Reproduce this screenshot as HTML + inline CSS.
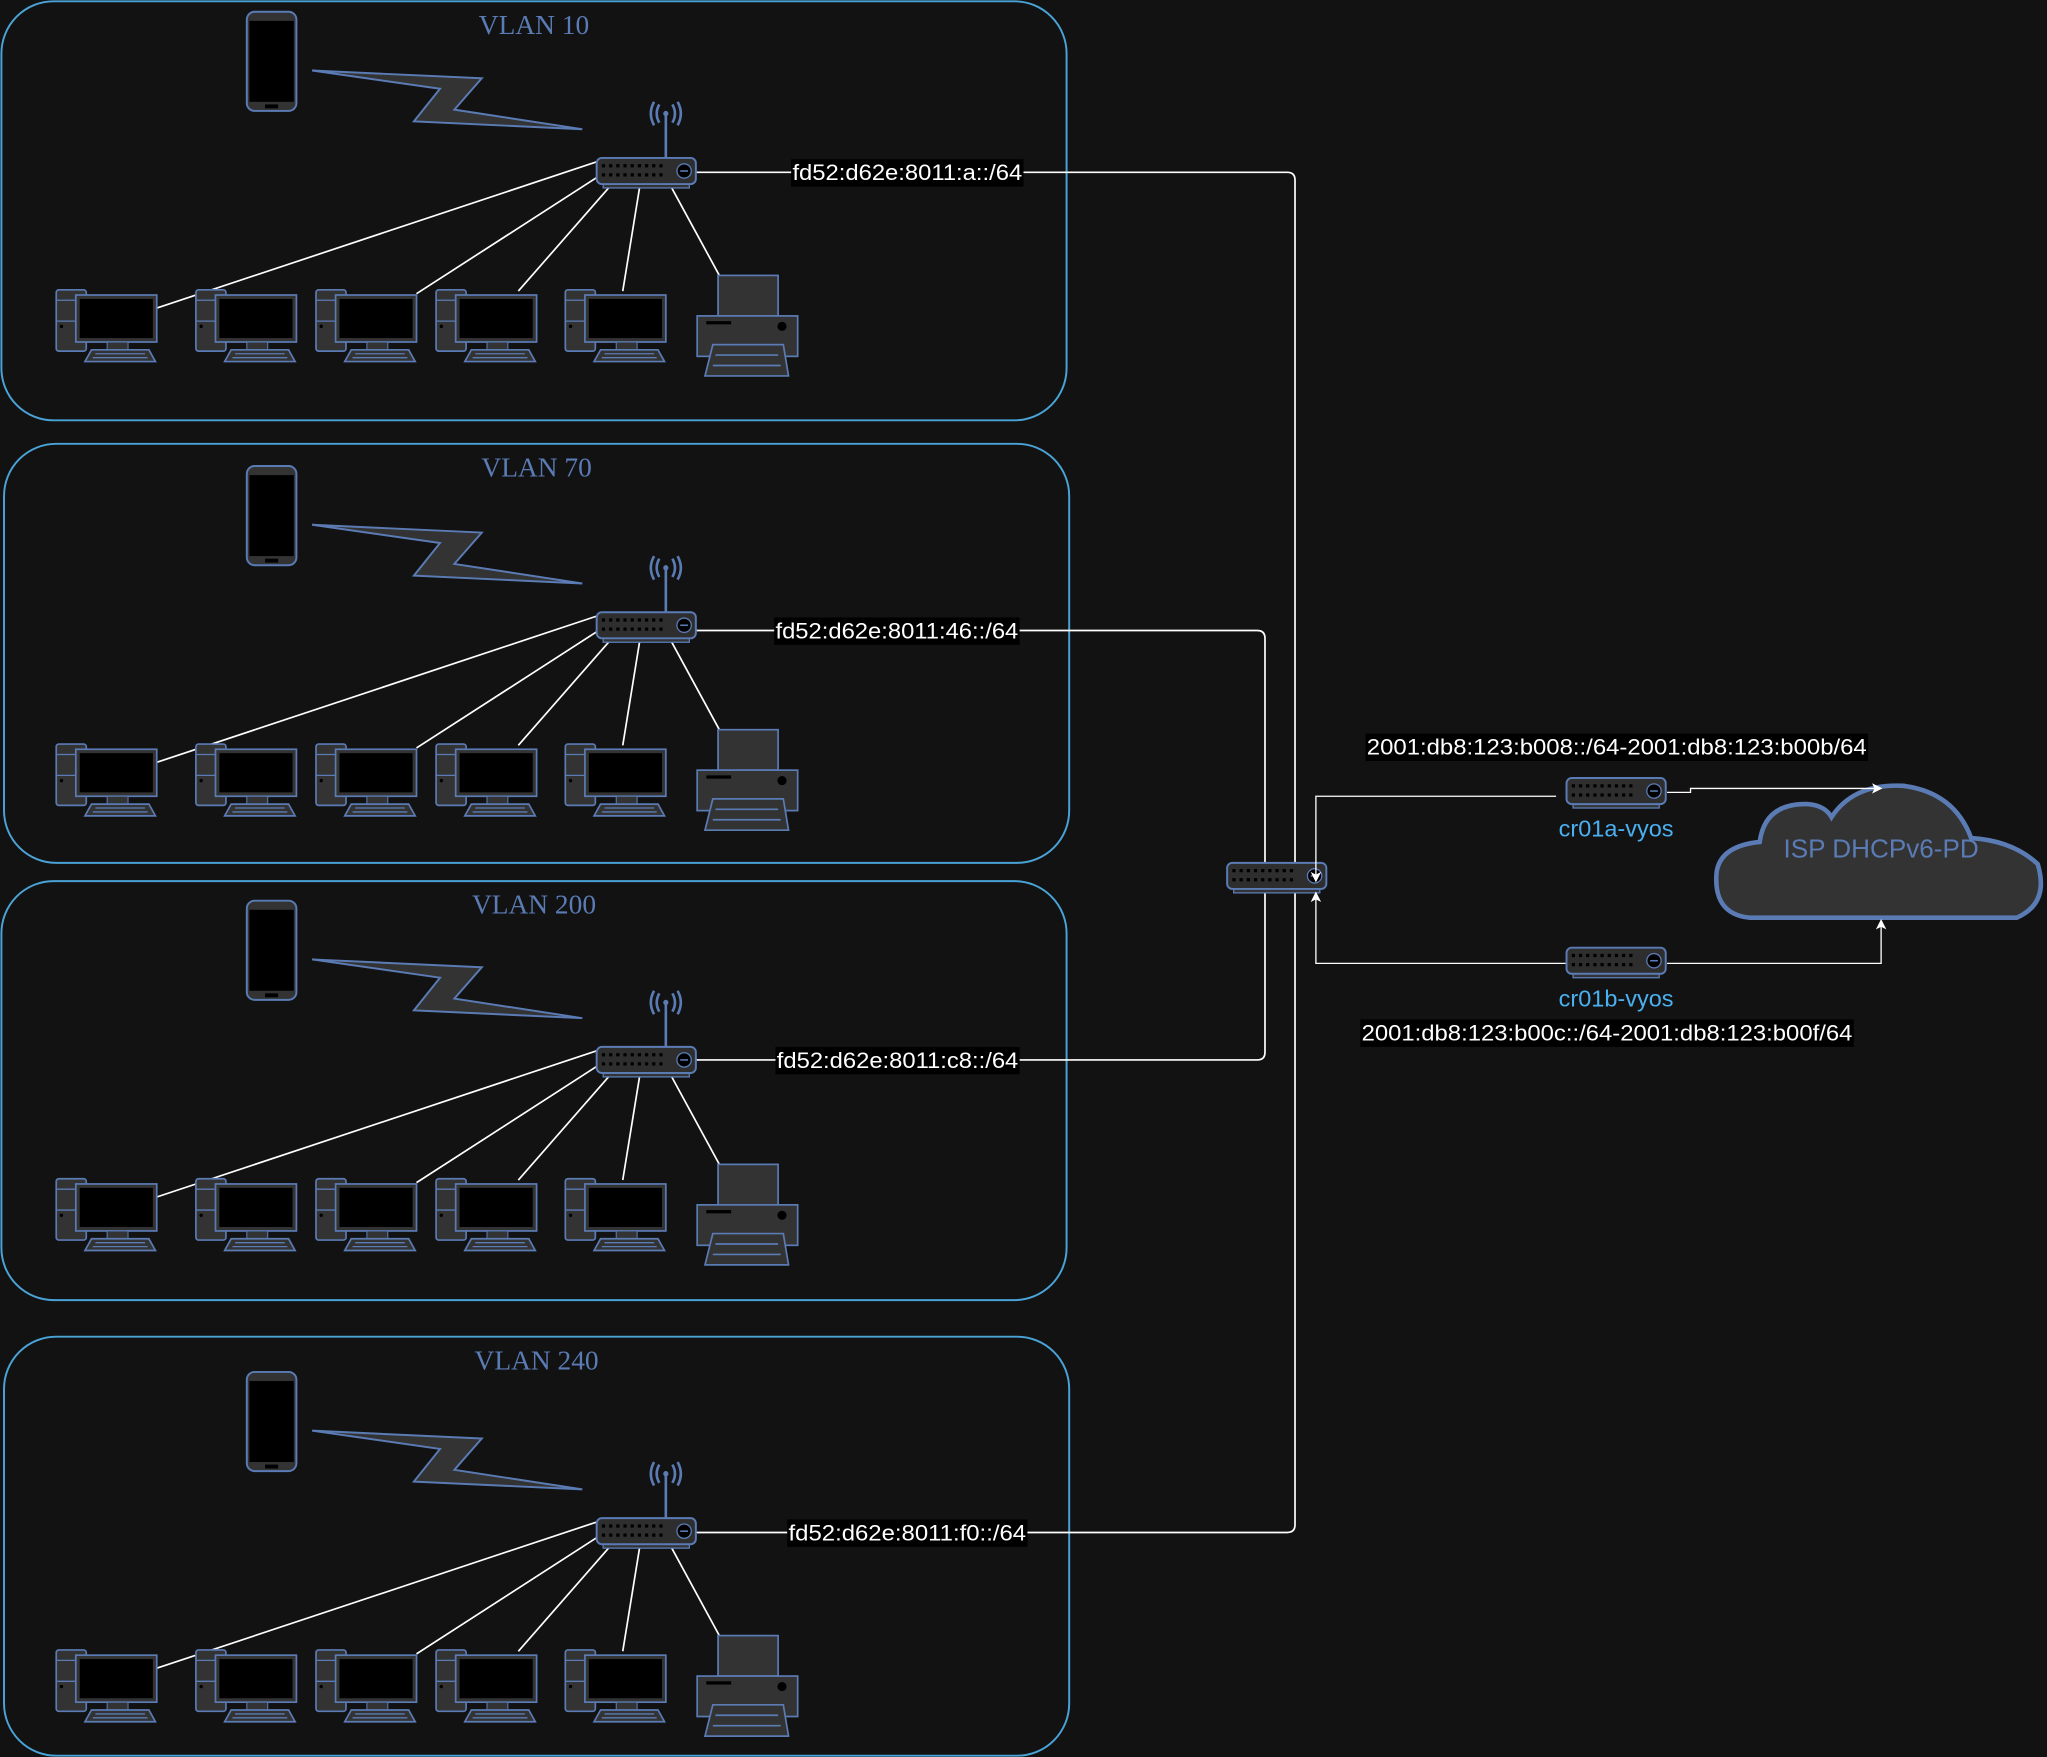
<!DOCTYPE html>
<html><head><meta charset="utf-8"><style>html,body{margin:0;padding:0;background:#121212}svg{display:block}</style></head><body>
<svg width="2047" height="1757" viewBox="0 0 1568 1346" xmlns="http://www.w3.org/2000/svg" font-family="Liberation Sans, sans-serif">
<defs>
<g id="pc">
<rect x="0" y="0" width="23" height="47" rx="2" fill="#333" stroke="#5b7bb5" stroke-width="1.3"/>
<line x1="0" y1="8" x2="15" y2="8" stroke="#5b7bb5"/>
<line x1="0" y1="24" x2="15" y2="24" stroke="#5b7bb5"/>
<circle cx="4" cy="28" r="1.3" fill="#000"/>
<rect x="15" y="4" width="62" height="36" fill="#333" stroke="#5b7bb5" stroke-width="1.3"/>
<rect x="18" y="7" width="56" height="30" fill="#000"/>
<rect x="39" y="40" width="16" height="6" fill="#333" stroke="#5b7bb5" stroke-width="0.8"/>
<polygon points="22,55 76,55 71,46 27,46" fill="#333" stroke="#5b7bb5" stroke-width="1.3"/>
<line x1="30" y1="49" x2="68" y2="49" stroke="#5b7bb5" stroke-width="1"/>
<line x1="28" y1="52" x2="70" y2="52" stroke="#5b7bb5" stroke-width="1"/>
</g>
<g id="sw">
<rect x="5" y="19" width="66" height="4" fill="#333" stroke="#5b7bb5" stroke-width="1"/>
<rect x="0" y="0" width="76" height="20" rx="4" fill="#2e2e2e" stroke="#5b7bb5" stroke-width="1.5"/>
<path d="M4 6 H53 M4 13 H53" stroke="#000" stroke-width="2.5" stroke-dasharray="2.5 3"/>
<circle cx="67" cy="10" r="5.5" fill="#000" stroke="#5b7bb5"/>
<path d="M64 10 H70" stroke="#5b7bb5" stroke-width="1.2"/>
</g>
<g id="v">
<rect x="189" y="9" width="38" height="76" rx="6" fill="#333" stroke="#5b7bb5" stroke-width="1.5"/>
<rect x="191" y="16" width="34" height="62" fill="#000"/>
<rect x="203" y="80" width="10" height="3" fill="#000"/>
<polygon points="239,54 369,60 348,84 446,99 317,93 337,68" fill="#333" stroke="#5b7bb5" stroke-width="1.5"/>
<line x1="510" y1="85" x2="510" y2="121" stroke="#5b7bb5" stroke-width="2"/>
<path d="M505 80 Q501 87 505 94 M501 78 Q496 87 501 96 M515 80 Q519 87 515 94 M519 78 Q524 87 519 96" stroke="#5b7bb5" stroke-width="2" fill="none"/>
<circle cx="510" cy="87" r="2" fill="#5b7bb5"/>
<g stroke="#fff" stroke-width="1.3">
<line x1="457" y1="124" x2="120" y2="236"/>
<line x1="457" y1="136" x2="319" y2="225"/>
<line x1="467" y1="143" x2="397" y2="223"/>
<line x1="490" y1="143" x2="477" y2="223"/>
<line x1="514" y1="143" x2="551" y2="211"/>
</g>
<use href="#sw" x="457" y="121"/>
<use href="#pc" x="43" y="222"/>
<use href="#pc" x="150" y="222"/>
<use href="#pc" x="242" y="222"/>
<use href="#pc" x="334" y="222"/>
<use href="#pc" x="433" y="222"/>
<rect x="550" y="211" width="46" height="31" fill="#333" stroke="#5b7bb5" stroke-width="1.3"/>
<rect x="534" y="242" width="77" height="31" fill="#333" stroke="#5b7bb5" stroke-width="1.3"/>
<rect x="541" y="246" width="19" height="2.5" fill="#000"/>
<circle cx="599" cy="250" r="3.5" fill="#000"/>
<polygon points="540,288 604,288 600,264 546,264" fill="#333" stroke="#5b7bb5" stroke-width="1.3"/>
<path d="M548 272 H596 M546 280 H598" stroke="#5b7bb5" stroke-width="1.3"/>
</g>
<marker id="ar" markerWidth="8" markerHeight="8" refX="7" refY="4" orient="auto" markerUnits="userSpaceOnUse"><path d="M0 0 L8 4 L0 8 L2 4 Z" fill="#fff"/></marker>
</defs>
<rect width="1568" height="1346" fill="#121212"/>
<g fill="none" stroke="#4aa3d6" stroke-width="1.5">
<rect x="1" y="1" width="816" height="321" rx="40"/>
<rect x="3" y="340" width="816" height="321" rx="40"/>
<rect x="1" y="675" width="816" height="321" rx="40"/>
<rect x="3" y="1024" width="816" height="321" rx="40"/>
</g>
<g font-family="Liberation Serif, serif" font-size="21" fill="#5b7bb5" text-anchor="middle">
<text x="409" y="26">VLAN 10</text>
<text x="411" y="365">VLAN 70</text>
<text x="409" y="700">VLAN 200</text>
<text x="411" y="1049">VLAN 240</text>
</g>
<g fill="none" stroke="#fff" stroke-width="1.3">
<path d="M533 132 H986 Q992 132 992 138 V1168 Q992 1174 986 1174 H533"/>
<path d="M533 483 H963 Q969 483 969 489 V806 Q969 812 963 812 H533"/>
</g>
<use href="#v" x="0" y="0"/>
<use href="#v" x="0" y="348"/>
<use href="#v" x="0" y="681"/>
<use href="#v" x="0" y="1042"/>
<use href="#sw" x="940" y="661"/>
<path d="M1340 703 Q1312 700 1315 668 Q1318 648 1348 645 Q1352 615 1385 616 Q1398 617 1403 626 Q1420 600 1458 602 Q1497 607 1510 642 Q1542 644 1561 662 Q1570 692 1545 703 Z" fill="#333" stroke="#5b7bb5" stroke-width="3.5"/>
<g fill="none" stroke="#fff" stroke-width="1">
<path d="M1192 610 H1008 V675" marker-end="url(#ar)"/>
<path d="M1200 738 H1008 V684" marker-end="url(#ar)"/>
<path d="M1277 607 H1295 V604 H1441" marker-end="url(#ar)"/>
<path d="M1277 738 H1441 V705" marker-end="url(#ar)"/>
</g>
<use href="#sw" x="1200" y="596"/>
<use href="#sw" x="1200" y="726"/>
<text x="1441" y="657" font-size="20" fill="#5b7bb5" text-anchor="middle">ISP DHCPv6-PD</text>
<g font-size="18" fill="#4ab0f0" text-anchor="middle">
<text x="1238" y="641">cr01a-vyos</text>
<text x="1238" y="771">cr01b-vyos</text>
</g>
<g fill="#000">
<rect x="606" y="122" width="178" height="21"/>
<rect x="593" y="473" width="188" height="21"/>
<rect x="594" y="802" width="187" height="21"/>
<rect x="603" y="1164" width="184" height="21"/>
<rect x="1046" y="562" width="385" height="21"/>
<rect x="1042" y="781" width="378" height="21"/>
</g>
<g font-size="17" fill="#fff">
<text x="607" y="138" textLength="176" lengthAdjust="spacingAndGlyphs">fd52:d62e:8011:a::/64</text>
<text x="594" y="489" textLength="186" lengthAdjust="spacingAndGlyphs">fd52:d62e:8011:46::/64</text>
<text x="595" y="818" textLength="185" lengthAdjust="spacingAndGlyphs">fd52:d62e:8011:c8::/64</text>
<text x="604" y="1180" textLength="182" lengthAdjust="spacingAndGlyphs">fd52:d62e:8011:f0::/64</text>
<text x="1047" y="578" textLength="383" lengthAdjust="spacingAndGlyphs">2001:db8:123:b008::/64-2001:db8:123:b00b/64</text>
<text x="1043" y="797" textLength="376" lengthAdjust="spacingAndGlyphs">2001:db8:123:b00c::/64-2001:db8:123:b00f/64</text>
</g>
</svg>
</body></html>
